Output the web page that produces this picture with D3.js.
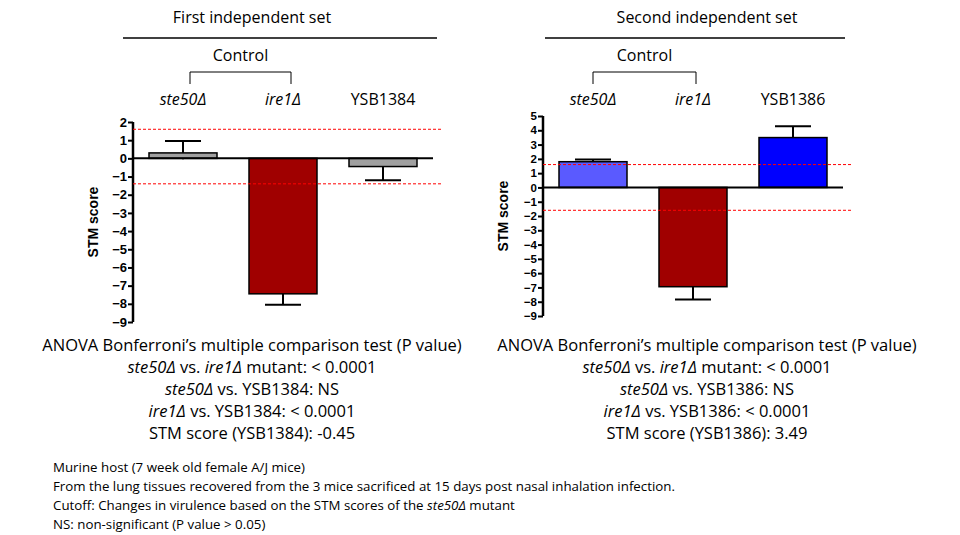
<!DOCTYPE html>
<html><head><meta charset="utf-8">
<script src="https://cdn.jsdelivr.net/npm/d3@7"></script>
<style>body{margin:0;background:#fff}text{font-family:"Open Sans",sans-serif}</style>
</head><body><svg id="c" width="960" height="535"></svg>
<script>
const categories1 = ["ste50Δ","ire1Δ","YSB1384"];
const values1 = [0.3,-7.45,-0.45];
const errors1 = [0.65,0.6,0.75];
const colors1 = ["#A0A0A0","#A00000","#A0A0A0"];
const categories2 = ["ste50Δ","ire1Δ","YSB1386"];
const values2 = [1.8,-6.95,3.49];
const errors2 = [0.15,0.9,0.8];
const colors2 = ["#5A5AFF","#A00000","#0000FF"];
const ticks1 = d3.range(-9,3); const ticks2 = d3.range(-9,6);
const cutoff1=[1.6,-1.4], cutoff2=[1.6,-1.6];
const stats1=[["","ANOVA Bonferroni’s multiple comparison test (P value)"],["ste50Δ","vs. ","ire1Δ"," mutant: < 0.0001"],["ste50Δ","vs. YSB1384: NS"],["ire1Δ","vs. YSB1384: < 0.0001"],["","STM score (YSB1384): -0.45"]];
const stats2=[["","ANOVA Bonferroni’s multiple comparison test (P value)"],["ste50Δ","vs. ","ire1Δ"," mutant: < 0.0001"],["ste50Δ","vs. YSB1386: NS"],["ire1Δ","vs. YSB1386: < 0.0001"],["","STM score (YSB1386): 3.49"]];
const svg=d3.select("#c");
const AR="font-family:'Liberation Sans',Arial,sans-serif;font-weight:bold";
function panel(o){
  const g=svg.append("g");
  g.append("text").attr("x",o.cx).attr("y",23).attr("text-anchor","middle").attr("font-size",16).text(o.title);
  g.append("line").attr("x1",o.lx1).attr("x2",o.lx2).attr("y1",38).attr("y2",38).attr("stroke","#000").attr("stroke-width",1.5);
  g.append("text").attr("x",(o.bx1+o.bx2)/2).attr("y",61).attr("text-anchor","middle").attr("font-size",16).text("Control");
  g.append("path").attr("d",`M${o.bx1},84V72H${o.bx2}V84`).attr("fill","none").attr("stroke","#000");
  const x=d3.scaleBand().domain(o.cats).range([o.x0,o.x0+300]).paddingInner(0.32).paddingOuter(0.16);
  const y=d3.scaleLinear().domain([o.min,o.max]).range([o.yb,o.yt]);
  o.cats.forEach((c,i)=>{
    g.append("text").attr("x",x(c)+x.bandwidth()/2).attr("y",105).attr("text-anchor","middle").attr("font-size",16)
     .attr("font-style",i<2?"italic":"normal").text(c);
  });
  const ax=g.append("g").attr("transform",`translate(${o.x0},0)`).call(d3.axisLeft(y).tickValues(o.ticks).tickSize(5).tickFormat(d3.format("d")));
  ax.select(".domain").attr("stroke-width",2.5).attr("d",`M0,${o.yb}V${o.yt}`);
  ax.selectAll(".tick line").attr("stroke-width",2);
  ax.selectAll("text").attr("style",AR+";font-size:"+o.fs+"px").attr("x",-6);
  g.append("text").attr("transform",`translate(${o.x0-35},${(o.yt+o.yb)/2}) rotate(-90)`).attr("text-anchor","middle")
   .attr("style",AR+";font-size:14px").text("STM score");
  o.vals.forEach((v,i)=>{
    const c=o.cats[i], cx=x(c)+x.bandwidth()/2, e=v+Math.sign(v)*o.errs[i];
    g.append("line").attr("x1",cx).attr("x2",cx).attr("y1",y(v-Math.sign(v)*0.35)).attr("y2",y(e)).attr("stroke","#000").attr("stroke-width",2);
    g.append("line").attr("x1",cx-18).attr("x2",cx+18).attr("y1",y(e)).attr("y2",y(e)).attr("stroke","#000").attr("stroke-width",2);
    g.append("rect").attr("x",x(c)).attr("width",x.bandwidth()).attr("y",y(Math.max(0,v))).attr("height",Math.abs(y(v)-y(0)))
     .attr("fill",o.cols[i]).attr("stroke","#000").attr("stroke-width",1.5);
  });
  g.append("line").attr("x1",o.x0).attr("x2",o.x0+300).attr("y1",y(0)).attr("y2",y(0)).attr("stroke","#000").attr("stroke-width",2);
  o.cut.forEach(v=>g.append("line").attr("x1",o.x0).attr("x2",o.x0+310).attr("y1",y(v)).attr("y2",y(v)).attr("stroke","red").attr("stroke-dasharray","3,2"));
  o.stats.forEach((s,i)=>{
    const t=g.append("text").attr("x",o.cx).attr("y",351+i*22).attr("text-anchor","middle").attr("font-size",16.5);
    if(s.length===2){ if(s[0]){t.append("tspan").attr("font-style","italic").text(s[0]+" ");} t.append("tspan").text(s[1]); }
    else { t.append("tspan").attr("font-style","italic").text(s[0]+" "); t.append("tspan").text(s[1]);
      t.append("tspan").attr("font-style","italic").text(s[2]); t.append("tspan").text(s[3]); }
  });
}
panel({title:"First independent set",cx:252,lx1:123,lx2:437,bx1:190,bx2:291,cats:categories1,vals:values1,errs:errors1,cols:colors1,
  x0:133,min:-9,max:2,yb:322,yt:122,ticks:ticks1,cut:cutoff1,stats:stats1,fs:13});
panel({title:"Second independent set",cx:707,lx1:545,lx2:845,bx1:593,bx2:696,cats:categories2,vals:values2,errs:errors2,cols:colors2,
  x0:543,min:-9,max:5,yb:316,yt:116,ticks:ticks2,cut:cutoff2,stats:stats2,fs:11.5});
const notes=["Murine host (7 week old female A/J mice)","From the lung tissues recovered from the 3 mice sacrificed at 15 days post nasal inhalation infection."];
notes.forEach((n,i)=>svg.append("text").attr("x",53).attr("y",472+i*19).attr("font-size",13.3).text(n));
const t3=svg.append("text").attr("x",53).attr("y",510).attr("font-size",13.3);
t3.append("tspan").text("Cutoff: Changes in virulence based on the STM scores of the ");t3.append("tspan").attr("font-style","italic").text("ste50Δ");t3.append("tspan").text(" mutant");
svg.append("text").attr("x",53).attr("y",529).attr("font-size",13.3).text("NS: non-significant (P value > 0.05)");
</script></body></html>
